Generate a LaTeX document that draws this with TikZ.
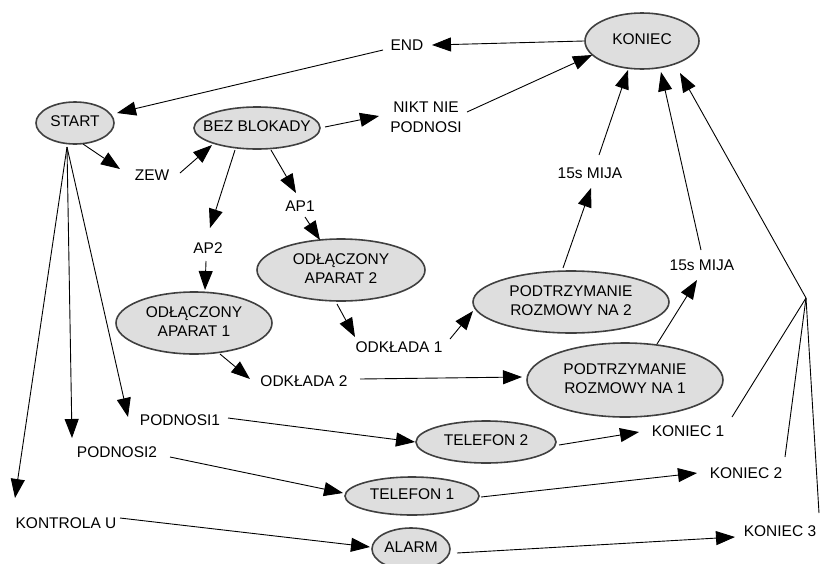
\documentclass[tikz,border=0pt]{standalone}
\usepackage{fontspec}
\setmainfont{Liberation Sans}
\usetikzlibrary{shapes.geometric,arrows.meta,calc}
\newcommand{\ctext}[1]{\makebox[0pt][c]{\begin{tabular}{@{}c@{}}#1\end{tabular}}}
\begin{document}
\begin{tikzpicture}[x=1pt,y=-1pt,
  font=\fontsize{15.5}{19.5}\selectfont,
  st/.style={ellipse,draw=black!75,line width=1.6pt,fill=black!13,inner sep=0pt},
  lbl/.style={inner sep=0pt,align=center},
  arr/.style={-{Triangle[length=19pt,width=14pt]},line width=0.9pt},
  ln/.style={line width=0.9pt}]
\useasboundingbox (0,0) rectangle (822,563);
\begin{scope}
\clip (0,0) rectangle (822,563);
% states
\node[st,minimum width=114pt,minimum height=56pt] (koniec) at (642,41) {\ctext{KONIEC}};
\node[st,minimum width=78pt,minimum height=42pt] (start) at (75,123) {\ctext{START}};
\node[st,minimum width=126pt,minimum height=42pt] (bez) at (257,128) {\ctext{BEZ BLOKADY}};
\node[st,minimum width=168pt,minimum height=62pt] (odl2) at (341,270) {\ctext{ODŁĄCZONY\\APARAT 2}};
\node[st,minimum width=156pt,minimum height=62pt] (odl1) at (194,323) {\ctext{ODŁĄCZONY\\APARAT 1}};
\node[st,minimum width=196pt,minimum height=62pt] (p2) at (571,302) {\ctext{PODTRZYMANIE\\ROZMOWY NA 2}};
\node[st,minimum width=196pt,minimum height=74pt] (p1) at (625,380) {\ctext{PODTRZYMANIE\\ROZMOWY NA 1}};
\node[st,minimum width=140pt,minimum height=42pt] (tel2) at (486,442) {\ctext{TELEFON 2}};
\node[st,minimum width=134pt,minimum height=38pt] (tel1) at (412,496) {\ctext{TELEFON 1}};
\node[st,minimum width=78pt,minimum height=42pt] (alarm) at (411,549) {\ctext{ALARM}};
% labels
\node[lbl] (endn) at (407,45) {END};
\node[lbl] (zew) at (152,175) {ZEW};
\node[lbl] (nikt) at (426,117) {NIKT NIE\\PODNOSI};
\node[lbl] (ap1) at (300,206) {AP1};
\node[lbl] (ap2) at (208,248) {AP2};
\node[lbl] (odk1) at (399,347) {ODKŁADA 1};
\node[lbl] (odk2) at (304,381) {ODKŁADA 2};
\node[lbl] (mija1) at (590,173) {15s MIJA};
\node[lbl] (mija2) at (702,265) {15s MIJA};
\node[lbl] (pod1) at (180,420) {PODNOSI1};
\node[lbl] (pod2) at (117,452) {PODNOSI2};
\node[lbl] (kontrola) at (66,523) {KONTROLA U};
\node[lbl] (k1) at (688,431) {KONIEC 1};
\node[lbl] (k2) at (746,473) {KONIEC 2};
\node[lbl] (k3) at (780,531) {KONIEC 3};
\coordinate (conv) at (806,298);
% connectors
\draw[arr] ($(koniec)+(-58,0)$) -- ($(endn)+(25,0)$);
\draw[arr] ($(endn)+(-24,5)$) -- ($(start)+(42,-10)$);
\draw[arr] ($(start)+(8,21)$) -- ($(zew)+(-32,-6)$);
\draw[arr] ($(zew)+(28,-2)$) -- ($(bez)+(-45,17)$);
\draw[arr] ($(bez)+(68,-1)$) -- ($(nikt)+(-47,-1)$);
\draw[arr] ($(nikt)+(41,-5)$) -- ($(koniec)+(-50,14)$);
\draw[arr] ($(bez)+(14,22)$) -- ($(ap1)+(-4,-13)$);
\draw[arr] ($(ap1)+(5,11)$) -- ($(odl2)+(-21,-30)$);
\draw[arr] ($(bez)+(-22,22)$) -- ($(ap2)+(2,-20)$);
\draw[arr] ($(ap2)+(-2,13)$) -- ($(odl1)+(11,-33)$);
\draw[arr] ($(odl2)+(-4,34)$) -- ($(odk1)+(-44,-10)$);
\draw[arr] ($(odk1)+(51,-8)$) -- ($(p2)+(-98,9)$);
\draw[arr] ($(p2)+(-8,-34)$) -- ($(mija1)+(1,15)$);
\draw[arr] ($(mija1)+(9,-18)$) -- ($(koniec)+(-14,29)$);
\draw[arr] ($(odl1)+(26,31)$) -- ($(odk2)+(-54,-2)$);
\draw[arr] ($(odk2)+(56,-2)$) -- ($(p1)+(-103,-3)$);
\draw[arr] ($(p1)+(32,-36)$) -- ($(mija2)+(-5,15)$);
\draw[arr] ($(mija2)+(-1,-15)$) -- ($(koniec)+(19,31)$);
\draw[arr] (conv) -- ($(koniec)+(38,32)$);
\draw[ln] ($(k1)+(44,-14)$) -- (conv);
\draw[ln] ($(k2)+(39,-16)$) -- (conv);
\draw[ln] ($(k3)+(39,-18)$) -- (conv);
\draw[arr] ($(tel2)+(73,3)$) -- ($(k1)+(-49,1)$);
\draw[arr] ($(tel1)+(69,1)$) -- ($(k2)+(-49,0)$);
\draw[arr] ($(alarm)+(46,4)$) -- ($(k3)+(-45,6)$);
\draw[arr] ($(kontrola)+(54,-5)$) -- ($(alarm)+(-41,-2)$);
\draw[arr] ($(pod2)+(53,5)$) -- ($(tel1)+(-69,-3)$);
\draw[arr] ($(pod1)+(48,-2)$) -- ($(tel2)+(-71,0)$);
\draw[arr] ($(start)+(-8,24)$) -- ($(pod1)+(-52,-3)$);
\draw[arr] ($(start)+(-8,24)$) -- ($(pod2)+(-45,-14)$);
\draw[arr] ($(start)+(-8,24)$) -- ($(kontrola)+(-51,-25)$);
\end{scope}
\end{tikzpicture}
\end{document}
